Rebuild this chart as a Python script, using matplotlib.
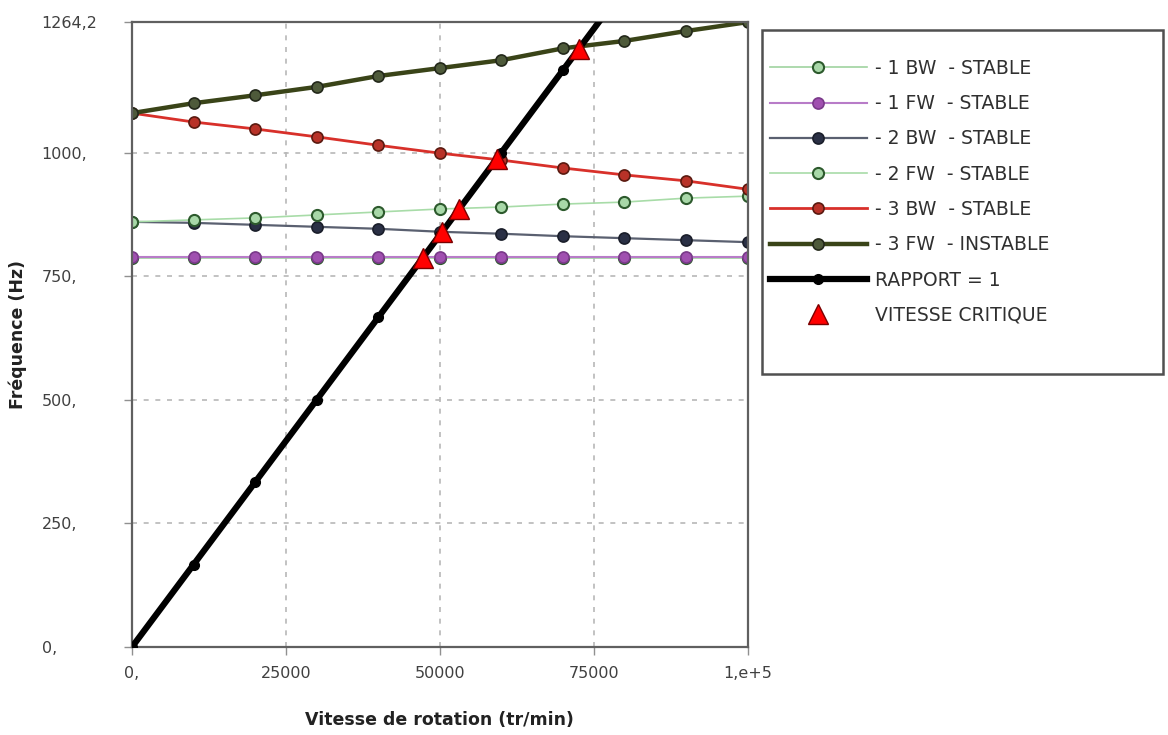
import matplotlib.pyplot as plt
from matplotlib.patches import Rectangle

# vitesses de rotation (tr/min)
vitesse = [0, 10000, 20000, 30000, 40000, 50000, 60000, 70000, 80000, 90000, 100000]

bw1 = [786, 786, 786, 786, 786, 786, 786, 786, 786, 786, 786]
fw1 = [788, 788, 788, 788, 788, 788, 788, 788, 788, 788, 788]
bw2 = [860, 858, 854, 850, 846, 840, 836, 831, 827, 823, 819]
fw2 = [860, 864, 868, 874, 880, 886, 890, 896, 900, 908, 912]
bw3 = [1080, 1062, 1048, 1032, 1015, 999, 985, 969, 955, 943, 926]
fw3 = [1080, 1100, 1116, 1133, 1155, 1171, 1187, 1211, 1226, 1246, 1264]

# rapport = 1 (fréquence = vitesse / 60)
vitesse_r = [0, 10000, 20000, 30000, 40000, 50000, 60000, 70000, 80000]
rapport = [0, 166.7, 333.3, 500, 666.7, 833.3, 1000, 1166.7, 1333.3]

# vitesses critiques
crit_v = [47200, 50400, 53200, 59300, 72600]
crit_f = [787, 840, 887, 988, 1210]

xticks = [0, 25000, 50000, 75000, 100000]
xlabels = ['0,', '25000', '50000', '75000', '1,e+5']
yticks = [0, 250, 500, 750, 1000, 1264.2]
ylabels = ['0,', '250,', '500,', '750,', '1000,', '1264,2']

fig = plt.figure(figsize=(11.68, 7.35), dpi=100)
ax = fig.add_axes([0.113, 0.1197, 0.527, 0.8503])

ax.plot(vitesse, bw1, '-o', color='#9fd39f', lw=1.2, ms=8, mfc='#a8d8a8', mec='#2d5a2d', mew=1.5,
        label='- 1 BW  - STABLE', zorder=2)
ax.plot(vitesse, fw1, '-o', color='#b87cc8', lw=1.5, ms=8, mfc='#a050b0', mec='#7a3a8a', mew=1.2,
        label='- 1 FW  - STABLE', zorder=2)
ax.plot(vitesse, bw2, '-o', color='#5a6070', lw=1.6, ms=8, mfc='#2a3045', mec='#1a1e2a', mew=1.2,
        label='- 2 BW  - STABLE', zorder=2)
ax.plot(vitesse, fw2, '-o', color='#a8dca8', lw=1.2, ms=8, mfc='#a8d8a8', mec='#2d5a2d', mew=1.5,
        label='- 2 FW  - STABLE', zorder=2)
ax.plot(vitesse, bw3, '-o', color='#d8302a', lw=2, ms=8, mfc='#b83228', mec='#5a1a10', mew=1.2,
        label='- 3 BW  - STABLE', zorder=2)
ax.plot(vitesse, fw3, '-o', color='#3a4418', lw=3.2, ms=8, mfc='#4e5a3a', mec='#23281a', mew=1.2,
        label='- 3 FW  - INSTABLE', zorder=2)
ax.plot(vitesse_r, rapport, '-o', color='black', lw=4.5, ms=7, label='RAPPORT = 1', zorder=3)
ax.plot(crit_v, crit_f, '^', color='#ff0000', ms=15, mec='#7a0000', mew=1, ls='none',
        label='VITESSE CRITIQUE', zorder=5)

ax.set_xlim(0, 100000)
ax.set_ylim(0, 1264.2)
ax.set_xticks(xticks)
ax.set_xticklabels(xlabels)
ax.set_yticks(yticks)
ax.set_yticklabels(ylabels, ha='left')
ax.tick_params(labelsize=11.5, labelcolor='#404040', color='#909090', length=6, width=1)
ax.tick_params(axis='x', pad=8)
ax.tick_params(axis='y', pad=59)
ax.grid(True, color='#b8b8b8', linestyle=(0, (3, 4)), lw=1.2)
for s in ax.spines.values():
    s.set_color('#606060')
    s.set_linewidth(1.6)

ax.set_xlabel('Vitesse de rotation (tr/min)', fontsize=12.5, fontweight='bold', color='#222222', labelpad=21)
ax.set_ylabel('Fréquence (Hz)', fontsize=12.5, fontweight='bold', color='#222222')
ax.yaxis.set_label_coords(-0.17, 0.5)

# cadre de la légende
cadre = Rectangle((0.6524, 0.4912), 0.3433, 0.468, transform=fig.transFigure, fill=False,
                  edgecolor='#505050', lw=1.8)
fig.patches.append(cadre)

leg = fig.legend(loc='upper left', bbox_to_anchor=(0.659, 0.92), borderpad=0, borderaxespad=0,
                 fontsize=13.5, handlelength=5.2, handletextpad=0.4, labelspacing=0.87,
                 frameon=False)
for t in leg.get_texts():
    t.set_color('#303030')

plt.savefig('out.png')
